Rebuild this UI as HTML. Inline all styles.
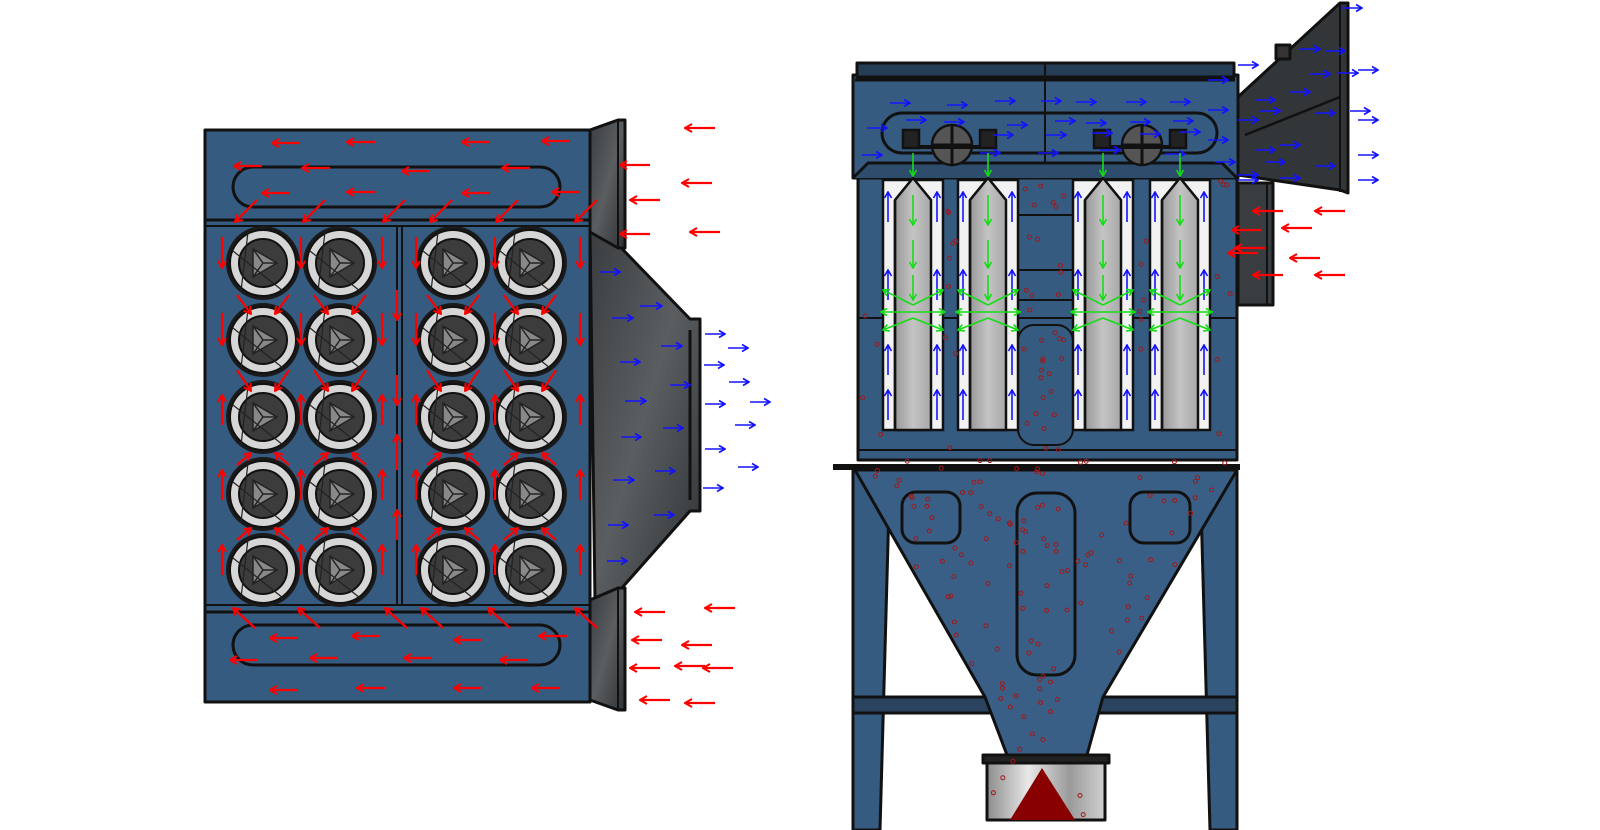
<!DOCTYPE html>
<html><head><meta charset="utf-8"><style>
html,body{margin:0;padding:0;background:#fff;width:1600px;height:830px;overflow:hidden}
svg{display:block}
</style></head><body>
<svg id="s" width="1600" height="830" viewBox="0 0 1600 830" xmlns="http://www.w3.org/2000/svg">
<defs>
<marker id="hr" markerWidth="10" markerHeight="10" refX="1" refY="5" orient="auto" markerUnits="userSpaceOnUse"><path d="M8,1 L1,5 L8,9" fill="none" stroke="#f00" stroke-width="2"/></marker>
<marker id="hb" markerWidth="10" markerHeight="10" refX="9" refY="5" orient="auto" markerUnits="userSpaceOnUse"><path d="M3,1.5 L9,5 L3,8.5" fill="none" stroke="#11f" stroke-width="1.6"/></marker>
<marker id="hg" markerWidth="10" markerHeight="10" refX="9" refY="5" orient="auto" markerUnits="userSpaceOnUse"><path d="M3,1.5 L9,5 L3,8.5" fill="none" stroke="#1d1" stroke-width="1.6"/></marker>
<linearGradient id="gd" x1="0" y1="0" x2="1" y2="1"><stop offset="0" stop-color="#3a3d40"/><stop offset="0.5" stop-color="#5a5e61"/><stop offset="1" stop-color="#2f3234"/></linearGradient>
<linearGradient id="gb" x1="0" y1="0" x2="1" y2="0"><stop offset="0" stop-color="#8d8d8d"/><stop offset="0.35" stop-color="#e8e8e8"/><stop offset="0.7" stop-color="#9a9a9a"/><stop offset="1" stop-color="#d0d0d0"/></linearGradient>
<linearGradient id="gf" x1="0" y1="0" x2="1" y2="0"><stop offset="0" stop-color="#999"/><stop offset="0.5" stop-color="#c4c4c4"/><stop offset="1" stop-color="#a8a8a8"/></linearGradient>
<g id="flt">
<circle r="37" fill="#1a1a1a"/>
<circle r="33" fill="#d6d6d6" stroke="#111" stroke-width="2"/>
<circle r="24" fill="#3c3c3c" stroke="#111" stroke-width="2"/>
<path d="M-10,-14 L14,0 L-10,14 Z" fill="#888" stroke="#222" stroke-width="1.5"/>
<path d="M-10,-14 L0,0 L14,0 M0,0 L-10,14" stroke="#222" stroke-width="1.5" fill="none"/>
<path d="M-30,-12 L20,28 M-15,-31 L-22,28" stroke="#222" stroke-width="1.2"/>
</g>
</defs>

<!-- LEFT VIEW -->
<g stroke="#111" stroke-width="3" stroke-linejoin="round">
<path d="M590,230 L600,226 L690,319 L700,319 L700,511 L690,511 L620,590 L595,600 Z" fill="url(#gd)"/>
<rect x="205" y="130" width="385" height="572" fill="#365b80"/>
<line x1="205" y1="220" x2="590" y2="220"/>
<line x1="205" y1="612" x2="590" y2="612"/>
<line x1="205" y1="605" x2="590" y2="605" stroke-width="2"/>
<line x1="205" y1="226" x2="590" y2="226" stroke-width="2"/>
<line x1="397" y1="226" x2="397" y2="605" stroke-width="2"/>
<line x1="402" y1="226" x2="402" y2="605" stroke-width="2"/>
<rect x="233" y="167" width="327" height="40" rx="20" fill="none"/>
<rect x="233" y="625" width="327" height="40" rx="20" fill="none"/>
<path d="M590,130 L618,120 L625,120 L625,248 L618,248 L590,232 Z" fill="url(#gd)"/>
<line x1="618" y1="120" x2="618" y2="248" stroke-width="2"/>
<path d="M590,600 L618,588 L625,588 L625,710 L618,710 L590,700 Z" fill="url(#gd)"/>
<line x1="618" y1="588" x2="618" y2="710" stroke-width="2"/>
<line x1="690" y1="330" x2="690" y2="500" stroke-width="3"/>
</g>
<g id="circles"></g>

<!-- RIGHT VIEW -->
<g stroke="#111" stroke-width="3" stroke-linejoin="round">
<!-- outlet duct -->
<path d="M1238,97 L1340,3 L1348,3 L1348,193 L1340,190 L1238,175 Z" fill="#333638"/>
<line x1="1340" y1="3" x2="1340" y2="192" stroke-width="2"/>
<line x1="1245" y1="135" x2="1340" y2="97" stroke-width="2.5"/>
<rect x="1276" y="45" width="14" height="14" fill="#333"/>
<!-- inlet box -->
<rect x="1238" y="183" width="35" height="122" fill="#3a3d40"/>
<line x1="1267" y1="183" x2="1267" y2="305" stroke-width="2"/>
<!-- legs -->
<path d="M853,470 L890,470 L880,830 L853,830 Z" fill="#365b80"/>
<path d="M1200,470 L1237,470 L1237,830 L1210,830 Z" fill="#365b80"/>
<rect x="853" y="697" width="384" height="16" fill="#2a4460"/>
<!-- hopper -->
<path d="M855,470 L1237,470 L1103,697 L1087,755 L1007,755 L985,697 Z" fill="#3a5f86"/>
<rect x="902" y="492" width="58" height="51" rx="14" fill="none"/>
<rect x="1017" y="493" width="58" height="182" rx="20" fill="none"/>
<rect x="1130" y="492" width="60" height="51" rx="14" fill="none"/>
<!-- bin -->
<rect x="987" y="757" width="118" height="63" fill="url(#gb)"/>
<rect x="983" y="755" width="126" height="8" fill="#222"/>
<path d="M1010,820 L1042,768 L1075,820 Z" fill="#800" stroke="none"/>
<!-- filter section -->
<rect x="858" y="175" width="379" height="285" fill="#365b80"/>
<line x1="833" y1="467" x2="1240" y2="467" stroke-width="6"/>
<line x1="858" y1="450" x2="1237" y2="450" stroke-width="2"/>
<line x1="858" y1="318" x2="1237" y2="318" stroke-width="2"/>
<line x1="1018" y1="215" x2="1073" y2="215" stroke-width="2"/>
<line x1="1018" y1="270" x2="1073" y2="270" stroke-width="2"/>
<line x1="1018" y1="300" x2="1073" y2="300" stroke-width="2"/>
<rect x="1018" y="325" width="55" height="120" rx="16" fill="none" stroke-width="2"/>
<!-- plenum -->
<rect x="853" y="75" width="385" height="103" fill="#365b80"/>
<rect x="857" y="63" width="377" height="14" fill="#253d55"/>
<line x1="855" y1="80" x2="1235" y2="80" stroke-width="3"/>
<line x1="1045" y1="63" x2="1045" y2="178" stroke-width="2"/>
<rect x="882" y="113" width="335" height="40" rx="20" fill="none"/>
<path d="M853,178 L868,163 L1222,163 L1237,178" fill="#2e4d6d"/>
</g>
<g id="rf" stroke="#111" stroke-width="2.5"></g>
<g stroke="#111" stroke-width="2.5">
<circle cx="952" cy="145" r="20" fill="#555"/><path d="M932,145 H972 M952,125 V165" stroke-width="3"/>
<circle cx="1142" cy="145" r="20" fill="#555"/><path d="M1122,145 H1162 M1142,125 V165" stroke-width="3"/>
<line x1="908" y1="147" x2="992" y2="147" stroke-width="4"/>
<line x1="1098" y1="147" x2="1182" y2="147" stroke-width="4"/>
<rect x="903" y="130" width="16" height="18" fill="#222"/><rect x="980" y="130" width="16" height="18" fill="#222"/>
<rect x="1094" y="130" width="16" height="18" fill="#222"/><rect x="1170" y="130" width="16" height="18" fill="#222"/>
</g>
<g id="dots" fill="none" stroke="#a01818" stroke-width="1"></g>
<g id="arr"></g>
</svg>
<script>
var NS="http://www.w3.org/2000/svg";
function el(p,t,a){var e=document.createElementNS(NS,t);for(var k in a)e.setAttribute(k,a[k]);p.appendChild(e);return e;}
var C=document.getElementById('circles');
[263,340,453,530].forEach(function(x){[263,340,417,494,570].forEach(function(y){el(C,'use',{href:'#flt',x:x,y:y});});});
var RF=document.getElementById('rf');
[[883,943],[958,1018],[1073,1133],[1150,1210]].forEach(function(f){
 var a=f[0],b=f[1],w=b-a;
 el(RF,'rect',{x:a,y:180,width:w,height:250,fill:'#f2f2f2'});
 el(RF,'path',{d:'M'+(a+12)+',430 L'+(a+12)+',200 L'+((a+b)/2)+',178 L'+(b-12)+',200 L'+(b-12)+',430 Z',fill:'url(#gf)'});
 el(RF,'line',{x1:a+12,y1:200,x2:a+12,y2:430});
});
var A=document.getElementById('arr');
function ar(x1,y1,x2,y2,c){var col={r:'#f00',b:'#1515ff',g:'#15dd15'}[c];
 if(c=='r')el(A,'line',{x1:x2,y1:y2,x2:x1,y2:y1,stroke:col,'stroke-width':2.2,'marker-start':'url(#hr)'});
 else el(A,'line',{x1:x1,y1:y1,x2:x2,y2:y2,stroke:col,'stroke-width':1.6,'marker-end':'url(#h'+c+')'});}
function L(x,y,len){ar(x,y,x-(len||28),y,'r');}
// left top plenum
[[300,143],[375,142],[490,142],[570,141],[262,166],[330,168],[430,171],[530,168],[290,193],[375,192],[490,193],[580,192]].forEach(function(p){L(p[0],p[1]);});
[257,325,405,452,518,597].forEach(function(x){ar(x,200,x-22,222,'r');});
// outside top
[[715,128],[650,165],[712,183],[660,200],[720,232],[650,234]].forEach(function(p){L(p[0],p[1],30);});
// verticals in filter area
var vx=[222,301,382,416,495,580];
vx.forEach(function(x){ar(x,237,x,268,'r');ar(x,313,x,345,'r');ar(x,425,x,395,'r');ar(x,500,x,470,'r');ar(x,575,x,545,'r');});
ar(397,290,397,320,'r');ar(397,375,397,405,'r');ar(397,470,397,435,'r');ar(397,540,397,510,'r');
[263,340,453,530].forEach(function(x){[[295,304],[370,381]].forEach(function(r){ar(x-26,r[0],x-12,r[1]+10,'r');ar(x+26,r[0],x+12,r[1]+10,'r');});
 [455,530].forEach(function(y){ar(x-26,y+10,x-12,y-2,'r');ar(x+26,y+10,x+12,y-2,'r');});});
// bottom plenum
[255,320,407,443,510,597].forEach(function(x){ar(x,628,x-22,608,'r');});
[[298,638],[380,636],[482,640],[567,636],[258,660],[338,658],[432,658],[528,660],[298,690],[385,688],[482,688],[560,688]].forEach(function(p){L(p[0],p[1]);});
[[665,612],[735,608],[662,640],[712,645],[660,668],[705,666],[733,668],[670,700],[715,703]].forEach(function(p){L(p[0],p[1],30);});
// blue hood
[[600,272,620],[640,306,662],[612,318,633],[661,346,682],[620,362,640],[670,385,690],[625,401,646],[621,437,641],[663,428,683],[613,480,634],[655,471,675],[608,525,628],[654,515,674],[607,561,627],
[705,334,725],[728,348,748],[704,365,724],[729,382,749],[705,404,725],[750,402,770],[735,425,755],[705,449,725],[738,467,758],[703,488,723]].forEach(function(p){ar(p[0],p[1],p[2],p[1],'b');});
// right plenum blue
[[910,103],[967,105],[1015,101],[1061,101],[1096,102],[1146,102],[1190,102],[926,120],[964,122],[1027,125],[1075,121],[1106,123],[1150,122],[1193,121],[887,128],[1013,135],[1066,135],[1112,133],[1160,134],[1200,132],[882,155],[1000,153],[1058,153],[1120,150],[1185,154],[1228,140],
[1228,110],[1228,80],[1258,65],[1275,100],[1258,120],[1280,111],[1275,150],[1310,92],[1300,145],[1330,74],[1335,113],[1335,166],[1235,162],[1258,180],[1300,178],[1345,51],[1358,73],[1370,111],[1378,70],[1378,120],[1378,155],[1378,180],[1362,8],[1285,162],[1320,49],[1258,175]].forEach(function(p){ar(p[0]-20,p[1],p[0],p[1],'b');});
// blue up arrows in filter strips
[888,937,963,1012,1078,1127,1155,1204].forEach(function(x){[222,300,375,420].forEach(function(y){ar(x,y,x,y-30,'b');});});
// green down
[913,988,1103,1180].forEach(function(x){ar(x,153,x,176,'g');ar(x,195,x,225,'g');ar(x,240,x,268,'g');ar(x,275,x,300,'g');
 ar(x,305,x-30,290,'g');ar(x,305,x+30,290,'g');ar(x,312,x-32,312,'g');ar(x,312,x+32,312,'g');ar(x,318,x-30,330,'g');ar(x,318,x+30,330,'g');});
// red inlet
[[1283,211],[1345,211],[1262,230],[1312,228],[1265,248],[1258,253],[1320,258],[1283,275],[1345,275]].forEach(function(p){L(p[0],p[1],30);});
// dots
var D=document.getElementById('dots'),s=7;
function rnd(){s=(s*9301+49297)%233280;return s/233280;}
function inside(x,y){
 if(y>180&&y<455){ if(x<862||x>1232)return false; var fs=[[883,943],[958,1018],[1073,1133],[1150,1210]];for(var i=0;i<4;i++)if(x>fs[i][0]-2&&x<fs[i][1]+2)return false;return true;}
 if(y>=460&&y<697){var t=(y-470)/227;var l=855+130*t,r=1237-134*t;return x>l+4&&x<r-4;}
 if(y>=697&&y<755){var t=(y-697)/58;return x>985+22*t+4&&x<1103-16*t-4;}
 if(y>=760&&y<815)return x>992&&x<1100&&!(x>1010&&x<1075&&y>770);
 return false;}
for(var i=0;i<900;i++){var x=855+rnd()*385,y=180+rnd()*640;if(inside(x,y)&&rnd()<0.5)el(D,'circle',{cx:x.toFixed(1),cy:y.toFixed(1),r:2});}
</script>
</body></html>
